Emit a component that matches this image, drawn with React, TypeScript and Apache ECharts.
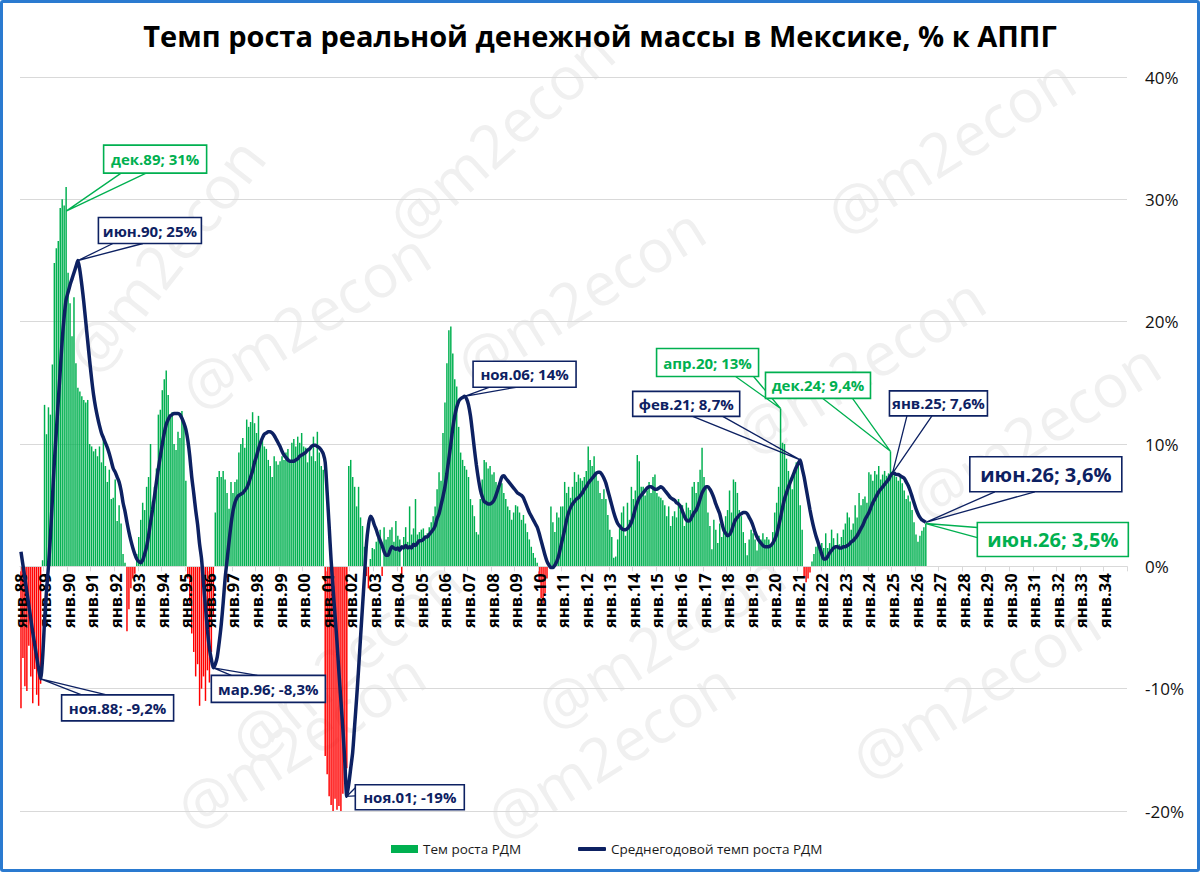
import React, { useEffect, useRef } from "react";
import * as echarts from "echarts";

const FONT = '"Open Sans", "DejaVu Sans", sans-serif';
const GREEN = "#00B050";
const RED = "#FF0000";
const NAVY = "#0D2162";

const TITLE = "Темп роста реальной денежной массы в Мексике, % к АППГ";
const BAR_NAME = "Тем роста РДМ";
const LINE_NAME = "Среднегодовой темп роста РДМ";

const MONTHS = ["янв", "фев", "мар", "апр", "май", "июн", "июл", "авг", "сен", "окт", "ноя", "дек"];
const FIRST_YEAR = 1988;
const LAST_YEAR = 2034;

const Y_MIN = -20;
const Y_MAX = 40;
const Y_STEP = 10;

// Monthly real money growth, % y/y (bars)
const growth1988_1995 = [
  -11.6, -7.5, -9.8, -10.2, -6.5, -9.0, -11.2, -8.4, -10.5, -11.4, -9.6, 0.5,
  13.2, 10.8, 13.0, 12.4, 16.5, 24.8, 26.0, 26.6, 29.3, 30.0, 29.5, 31.0,
  24.0, 21.5, 18.8, 22.0, 16.6, 14.6, 14.3, 13.9, 13.6, 13.4, 13.6, 10.0,
  9.8, 9.4, 9.6, 9.0, 9.8, 8.5, 10.4, 8.2, 6.9, 7.9, 5.5, 5.6,
  7.1, 3.7, 5.0, 3.5, 1.0, 0.3, -5.3, -3.5, -1.8, -1.0, -0.6, 1.0,
  2.4, 3.8, 5.2, 4.6, 6.5, 7.3, 10.0, 5.3, 6.5, 8.0, 12.4, 12.8,
  14.4, 15.3, 16.0, 14.0, 12.2, 12.6, 10.0, 9.5, 11.0, 10.5, 12.7, 11.5,
  7.0, -1.0, -3.0, -5.5, -7.0, -9.0, -8.0, -11.4, -10.0, -9.0, -11.0, -8.5,
];
const growth1996_2003 = [
  -9.5, -7.0, -4.0, 4.4, 7.3, 7.8, 7.3, 7.8, 7.1, 6.0, 4.7, 6.9,
  6.0, 6.9, 7.1, 9.3, 10.0, 10.5, 9.7, 12.0, 11.4, 11.8, 12.6, 11.7,
  10.9, 12.3, 10.1, 10.4, 9.8, 9.6, 8.7, 8.2, 7.3, 9.0, 8.6, 8.3,
  8.6, 9.0, 8.7, 9.3, 9.6, 8.6, 10.1, 10.4, 9.8, 10.6, 10.1, 10.9,
  9.8, 9.7, 8.5, 9.6, 9.0, 10.6, 8.6, 11.0, 9.3, 8.2, 7.9, -15.5,
  -17.0, -18.8, -19.5, -20.0, -19.0, -19.9, -19.6, -20.0, -18.6, -17.8, -16.5, 8.2,
  8.7, 7.3, 6.5, 4.9, 6.5, 4.0, 3.3, 1.6, -0.8, -1.8, 0.6, 1.5,
  1.4, 2.0, 2.4, 3.0, -0.8, 3.2, 2.2, 2.4, 3.0, 3.2, 2.0, 3.7,
];
const growth2004_2011 = [
  2.5, 2.2, -1.0, 2.4, 3.2, 2.0, 4.9, 2.6, 3.1, 5.5, 2.6, 2.8,
  3.0, 3.1, 2.5, 2.7, 3.2, 3.6, 4.1, 4.9, 6.3, 7.7, 7.0, 10.9,
  13.4, 16.6, 19.3, 19.6, 17.4, 15.3, 14.7, 11.4, 9.3, 8.7, 8.2, 7.9,
  7.3, 5.5, 5.0, 4.1, 2.8, 2.6, 5.5, 7.1, 8.7, 8.5, 8.0, 8.2,
  7.5, 7.7, 6.9, 6.6, 6.6, 6.8, 6.0, 5.5, 4.9, 4.6, 3.8, 4.4,
  5.0, 4.9, 4.4, 3.8, 4.2, 3.5, 2.8, 2.2, 1.6, 1.1, 0.7, 0.3,
  -1.2, -2.6, -3.0, -2.2, -1.0, 0.3, 4.9, 3.6, 2.8, 4.4, 4.0, 4.9,
  4.9, 6.9, 6.0, 6.5, 5.6, 6.5, 7.7, 6.9, 7.5, 7.2, 7.0, 7.3,
];
const growth2012_2019 = [
  7.8, 9.8, 8.7, 8.2, 9.0, 7.5, 7.0, 6.0, 5.5, 6.3, 5.5, 4.2,
  3.0, 2.4, 0.7, 0.8, 2.2, 3.1, 4.4, 4.9, 2.5, 5.2, 3.8, 6.5,
  5.5, 6.2, 9.1, 8.6, 6.5, 6.5, 5.8, 6.2, 6.9, 6.0, 7.3, 7.5,
  6.0, 5.7, 5.6, 5.4, 5.0, 4.1, 4.9, 3.3, 4.1, 4.5, 4.0, 5.5,
  4.6, 5.0, 3.3, 5.2, 4.8, 4.6, 6.5, 6.9, 6.0, 6.9, 7.9, 9.7,
  7.3, 6.5, 4.4, 3.3, 1.4, 3.8, 3.0, 1.9, 3.5, 2.4, 3.0, 4.1,
  4.6, 6.2, 4.4, 7.1, 6.9, 6.0, 4.6, 4.1, 2.8, 1.9, 0.9, 2.2,
  3.0, 2.7, 2.2, 1.3, 2.5, 2.2, 2.7, 2.2, 2.4, 2.2, 1.6, 2.8,
];
const growth2020_2026 = [
  4.4, 5.2, 6.5, 12.9, 10.1, 10.0, 8.8, 7.8, 6.8, 6.3, 7.8, 8.5,
  8.5, 5.0, 3.0, -0.8, -1.3, -1.0, -0.5, 0.4, 1.0, 1.6, 1.9, 1.2,
  1.9, 1.5, 2.7, 1.5, 1.9, 3.0, 2.3, 1.7, 2.7, 1.8, 2.4, 3.0,
  3.5, 4.4, 4.0, 3.0, 3.5, 5.0, 4.0, 6.0, 5.0, 5.5, 5.7, 5.2,
  7.7, 7.5, 7.0, 7.8, 7.5, 8.2, 7.1, 7.5, 7.8, 7.4, 7.6, 9.4,
  7.8, 7.6, 7.3, 7.0, 7.5, 6.8, 6.2, 5.5, 5.8, 5.3, 4.6, 3.6,
  2.6, 2.0, 2.5, 2.9, 3.2, 3.5,
];

// Average annual growth (line)
const avg1988_1995 = [
  1.2, 0.1, -1.0, -2.1, -3.2, -4.3, -5.4, -6.4, -7.4, -8.4, -9.2, -7.5,
  -4.5, -2.0, 0.0, 2.5, 5.5, 8.5, 11.0, 13.5, 16.0, 18.5, 20.4, 21.8,
  22.4, 23.0, 23.5, 24.0, 24.5, 25.0, 24.2, 23.0, 21.6, 20.0, 18.4, 16.8,
  15.3, 14.0, 13.0, 12.2, 11.5, 10.9, 10.5, 10.1, 9.7, 9.2, 8.6, 8.0,
  7.7, 7.3, 6.9, 6.2, 5.2, 4.5, 3.6, 2.8, 2.1, 1.5, 1.0, 0.6,
  0.4, 0.3, 0.5, 1.0, 1.6, 2.5, 3.6, 4.6, 5.7, 6.9, 8.0, 9.0,
  10.0, 10.9, 11.6, 12.0, 12.3, 12.4, 12.5, 12.5, 12.5, 12.4, 12.1, 11.7,
  11.2, 10.3, 9.0, 7.3, 6.0, 4.6, 3.4, 1.8, 0.6, -1.4, -3.3, -5.2,
];
const avg1996_2003 = [
  -6.7, -7.6, -8.3, -8.0, -7.4, -6.2, -4.8, -3.0, -1.0, 0.5, 2.0, 3.4,
  4.5, 5.2, 5.6, 5.8, 5.9, 6.0, 6.2, 6.4, 6.8, 7.3, 7.8, 8.5,
  9.0, 9.6, 10.1, 10.5, 10.8, 10.9, 11.0, 11.0, 10.9, 10.7, 10.4, 10.1,
  9.8, 9.4, 9.1, 8.9, 8.7, 8.6, 8.6, 8.6, 8.7, 8.8, 9.0, 9.1,
  9.2, 9.3, 9.5, 9.6, 9.8, 9.9, 9.9, 9.8, 9.7, 9.5, 9.2, 8.5,
  6.0, 3.3, 0.5, -1.8, -4.0, -6.2, -8.7, -11.0, -13.3, -16.0, -18.8, -17.8,
  -16.5, -15.2, -13.0, -10.8, -8.4, -5.8, -3.3, -0.8, 1.8, 3.3, 4.1, 3.9,
  3.4, 3.0, 2.5, 2.1, 1.7, 1.2, 0.9, 0.9, 1.3, 1.6, 1.5, 1.4,
];
const avg2004_2011 = [
  1.5, 1.3, 1.6, 1.5, 1.7, 1.5, 1.6, 1.5, 1.8, 1.7, 1.9, 2.1,
  2.1, 2.2, 2.4, 2.4, 2.6, 2.8, 3.0, 3.3, 3.9, 4.3, 5.0, 5.7,
  6.5, 7.6, 8.8, 10.0, 11.3, 12.3, 13.0, 13.5, 13.7, 13.8, 13.9, 13.7,
  13.2, 12.3, 11.0, 9.6, 8.3, 7.2, 6.3, 5.7, 5.3, 5.2, 5.1, 5.1,
  5.2, 5.4, 5.8, 6.3, 6.8, 7.3, 7.4, 7.2, 7.0, 6.8, 6.6, 6.4,
  6.2, 6.0, 5.9, 5.8, 5.6, 5.2, 4.8, 4.4, 4.1, 3.8, 3.5, 3.2,
  2.7, 2.1, 1.5, 0.9, 0.4, 0.1, -0.1, -0.1, 0.1, 0.4, 0.9, 1.6,
  2.3, 3.0, 3.8, 4.4, 4.8, 5.1, 5.3, 5.5, 5.6, 5.8, 6.0, 6.3,
];
const avg2012_2019 = [
  6.5, 6.8, 7.0, 7.2, 7.4, 7.6, 7.7, 7.7, 7.5, 7.2, 6.8, 6.2,
  5.6, 5.0, 4.4, 3.9, 3.5, 3.3, 3.1, 3.0, 3.0, 3.1, 3.3, 3.6,
  4.1, 4.7, 5.2, 5.6, 5.8, 6.0, 6.2, 6.4, 6.5, 6.5, 6.4, 6.3,
  6.3, 6.4, 6.5, 6.4, 6.2, 6.0, 5.8, 5.6, 5.5, 5.4, 5.2, 5.1,
  4.9, 4.5, 4.1, 3.8, 3.7, 3.8, 4.1, 4.4, 4.6, 5.0, 5.5, 6.0,
  6.3, 6.5, 6.5, 6.3, 6.0, 5.6, 5.1, 4.7, 4.3, 3.6, 3.0, 2.7,
  2.5, 2.6, 2.9, 3.4, 3.8, 4.0, 4.2, 4.3, 4.4, 4.4, 4.3, 4.0,
  3.7, 3.3, 2.8, 2.4, 2.1, 1.9, 1.7, 1.6, 1.6, 1.6, 1.7, 1.9,
];
const avg2020_2026 = [
  2.2, 2.6, 3.3, 4.0, 4.8, 5.5, 6.0, 6.5, 6.9, 7.3, 7.7, 8.1,
  8.4, 8.7, 8.0, 7.3, 6.4, 5.5, 4.6, 3.8, 3.1, 2.5, 2.0, 1.5,
  1.0, 0.6, 0.6, 0.8, 1.1, 1.3, 1.5, 1.6, 1.6, 1.5, 1.5, 1.6,
  1.6, 1.7, 1.8, 2.0, 2.1, 2.3, 2.5, 2.8, 3.1, 3.4, 3.8, 4.1,
  4.4, 4.8, 5.2, 5.5, 5.8, 6.1, 6.3, 6.5, 6.7, 6.9, 7.1, 7.4,
  7.6, 7.6, 7.5, 7.5, 7.4, 7.3, 7.2, 6.9, 6.6, 6.2, 5.7, 5.2,
  4.7, 4.3, 4.0, 3.8, 3.7, 3.6,
];

const GROWTH = [...growth1988_1995, ...growth1996_2003, ...growth2004_2011, ...growth2012_2019, ...growth2020_2026];
const AVG = [...avg1988_1995, ...avg1996_2003, ...avg2004_2011, ...avg2012_2019, ...avg2020_2026];

const CATEGORIES: string[] = [];
for (let y = FIRST_YEAR; y <= LAST_YEAR; y++) {
  for (const m of MONTHS) CATEGORIES.push(`${m}.${String(y % 100).padStart(2, "0")}`);
}

// Callouts: which point (month index + series) and the label text
const CALLOUT_TEXTS = [
  "дек.89; 31%", "июн.90; 25%", "ноя.88; -9,2%", "мар.96; -8,3%", "ноя.01; -19%", "ноя.06; 14%",
  "апр.20; 13%", "фев.21; 8,7%", "дек.24; 9,4%", "янв.25; 7,6%", "июн.26; 3,6%", "июн.26; 3,5%",
];
const CALLOUT_INDEX = [23, 29, 10, 98, 166, 226, 387, 397, 443, 444, 461, 461];
const CALLOUT_SOURCE = ["bar", "line", "line", "line", "line", "line", "bar", "line", "bar", "line", "line", "bar"];

// styling of callouts: box centre offset, box size, wedge base (relative to box centre), font size
const CALLOUT_STYLE = [
  { dx: 89, dy: -28, w: 103, h: 28, base: [-34, 14, -9, 14], fs: 15, tipDy: 24 },
  { dx: 72, dy: -30, w: 103, h: 26, base: [-37, 13, -7, 13], fs: 15, tipDy: 0 },
  { dx: 77, dy: 29, w: 112, h: 26, base: [-36, -13, -11, -13], fs: 15, tipDy: 0 },
  { dx: 55, dy: 21, w: 114, h: 27, base: [-37, -13.5, -11, -13.5], fs: 15, tipDy: 0 },
  { dx: 63, dy: 1, w: 109, h: 25, base: [-54.5, -9.5, -54.5, -1.5], fs: 15, tipDy: 0 },
  { dx: 60, dy: -22, w: 103, h: 26, base: [-35.5, 13, -8.5, 13], fs: 15, tipDy: 0 },
  { dx: -73, dy: -46, w: 102, h: 28, base: [28, 14, 46, 14], fs: 15, tipDy: 0 },
  { dx: -114, dy: -56, w: 107, h: 25, base: [6.5, 12.5, 36.5, 12.5], fs: 15, tipDy: 0 },
  { dx: -72.5, dy: -66, w: 105, h: 26, base: [4.5, 13, 34.5, 13], fs: 15, tipDy: 0 },
  { dx: 46, dy: -70, w: 98, h: 25, base: [-31.5, 12.5, -6.5, 12.5], fs: 15, tipDy: 0 },
  { dx: 120, dy: -48, w: 152, h: 35, base: [-51, 17.5, -11, 17.5], fs: 20, tipDy: 0 },
  { dx: 127, dy: 16, w: 151, h: 34, base: [-75.5, -12, -75.5, -2], fs: 20, tipDy: 0 },
];

const WATERMARKS = [
  [500, 135, 42], [950, 145, 32], [165, 255, 52], [305, 320, 32], [580, 295, 32],
  [860, 365, 32], [1035, 430, 32], [345, 660, 40], [660, 640, 32], [975, 690, 32],
  [300, 740, 32], [610, 750, 32],
];

const GRID = { left: 20, right: 73, top: 77, bottom: 61 };
const CHART_W = 1200;
const CHART_H = 872;

export default function App() {
  const ref = useRef<HTMLDivElement>(null);

  useEffect(() => {
    if (!ref.current) return;
    const chart = echarts.init(ref.current, null, { renderer: "svg" });

    const calloutData = CALLOUT_INDEX.map((idx, k) => [
      idx,
      CALLOUT_SOURCE[k] === "bar" ? GROWTH[idx] : AVG[idx],
    ]);

    const monthTick = (i: number) => i % 12 === 0;
    // lift the category axis (line, ticks, labels) to the zero level of the value axis
    const gridH = CHART_H - GRID.top - GRID.bottom;
    const zeroLift = (gridH * (0 - Y_MIN)) / (Y_MAX - Y_MIN);

    chart.setOption({
      animation: false,
      backgroundColor: "#ffffff",
      textStyle: { fontFamily: FONT },
      title: {
        text: TITLE,
        left: "center",
        top: 16,
        textStyle: { fontFamily: FONT, fontSize: 29, fontWeight: "bold", color: "#000" },
      },
      graphic: WATERMARKS.map(([x, y, r]) => ({
        type: "text",
        x,
        y,
        rotation: (r * Math.PI) / 180,
        silent: true,
        z: -10,
        style: {
          text: "@m2econ",
          fontSize: 60,
          fontFamily: FONT,
          fill: "#f0f0f0",
          align: "center",
          verticalAlign: "middle",
        },
      })),
      legend: [
        {
          top: 837,
          left: 386,
          itemWidth: 27,
          itemHeight: 8,
          textStyle: { fontFamily: FONT, fontSize: 13.5, color: "#1a1a1a" },
          data: [{ name: BAR_NAME, icon: "rect", itemStyle: { color: GREEN } }],
        },
        {
          top: 837,
          left: 573,
          itemWidth: 28,
          itemHeight: 4,
          textStyle: { fontFamily: FONT, fontSize: 13.5, color: "#1a1a1a" },
          data: [{ name: LINE_NAME, icon: "roundRect", itemStyle: { color: NAVY } }],
        },
      ],
      grid: { ...GRID, containLabel: false },
      xAxis: {
        type: "category",
        data: CATEGORIES,
        boundaryGap: true,
        offset: -zeroLift,
        zlevel: 1,
        z: 0,
        axisLine: { onZero: false, lineStyle: { color: "#d9d9d9", width: 1.2 } },
        axisTick: { show: true, interval: monthTick, length: 5, lineStyle: { color: "#d9d9d9" } },
        axisLabel: {
          interval: monthTick,
          rotate: 90,
          margin: 7,
          fontSize: 16.5,
          fontWeight: "bold",
          color: "#000",
          fontFamily: FONT,
        },
        splitLine: { show: false },
      },
      yAxis: {
        type: "value",
        position: "right",
        min: Y_MIN,
        max: Y_MAX,
        interval: Y_STEP,
        axisLine: { show: false },
        axisTick: { show: false },
        axisLabel: {
          formatter: "{value}%",
          fontSize: 17,
          color: "#111",
          margin: 18,
          fontFamily: FONT,
        },
        splitLine: { lineStyle: { color: "#d9d9d9", width: 1.2 } },
      },
      series: [
        {
          name: BAR_NAME,
          type: "bar",
          data: GROWTH,
          barCategoryGap: "25%",
          itemStyle: {
            color: (p: any) => (p.value < 0 ? RED : GREEN),
          },
          zlevel: 0,
          z: 2,
        },
        {
          name: LINE_NAME,
          type: "line",
          data: AVG,
          symbol: "none",
          smooth: 0.25,
          lineStyle: { color: NAVY, width: 3.5 },
          itemStyle: { color: NAVY },
          zlevel: 1,
          z: 4,
        },
        {
          type: "custom",
          name: "callouts",
          data: calloutData,
          clip: false,
          zlevel: 1,
          z: 10,
          renderItem: (params: any, api: any) => {
            const k = params.dataIndex;
            const s = CALLOUT_STYLE[k];
            const color = CALLOUT_SOURCE[k] === "bar" ? GREEN : NAVY;
            const p = api.coord([api.value(0), api.value(1)]);
            const tip = [p[0], p[1] + s.tipDy];
            const cx = p[0] + s.dx;
            const cy = p[1] + s.dy;
            return {
              type: "group",
              children: [
                {
                  type: "polyline",
                  shape: {
                    points: [
                      [cx + s.base[0], cy + s.base[1]],
                      tip,
                      [cx + s.base[2], cy + s.base[3]],
                    ],
                  },
                  style: { stroke: color, lineWidth: 1.3, fill: null },
                },
                {
                  type: "rect",
                  shape: { x: cx - s.w / 2, y: cy - s.h / 2, width: s.w, height: s.h },
                  style: { fill: "#ffffff", stroke: color, lineWidth: 1.6 },
                },
                {
                  type: "text",
                  x: cx,
                  y: cy,
                  style: {
                    text: CALLOUT_TEXTS[k],
                    fill: color,
                    fontSize: s.fs,
                    fontWeight: "bold",
                    fontFamily: FONT,
                    align: "center",
                    verticalAlign: "middle",
                  },
                },
              ],
            };
          },
        },
      ],
    });

    return () => chart.dispose();
  }, []);

  return (
    <div style={{ position: "absolute", left: 0, top: 0, width: CHART_W, height: CHART_H, background: "#fff" }}>
      <div ref={ref} style={{ width: CHART_W, height: CHART_H }} />
      <div
        style={{
          position: "absolute",
          left: 0,
          top: 0,
          width: CHART_W,
          height: CHART_H,
          boxSizing: "border-box",
          border: "3px solid #2A7AD0",
          borderRadius: 3,
          pointerEvents: "none",
        }}
      />
    </div>
  );
}
